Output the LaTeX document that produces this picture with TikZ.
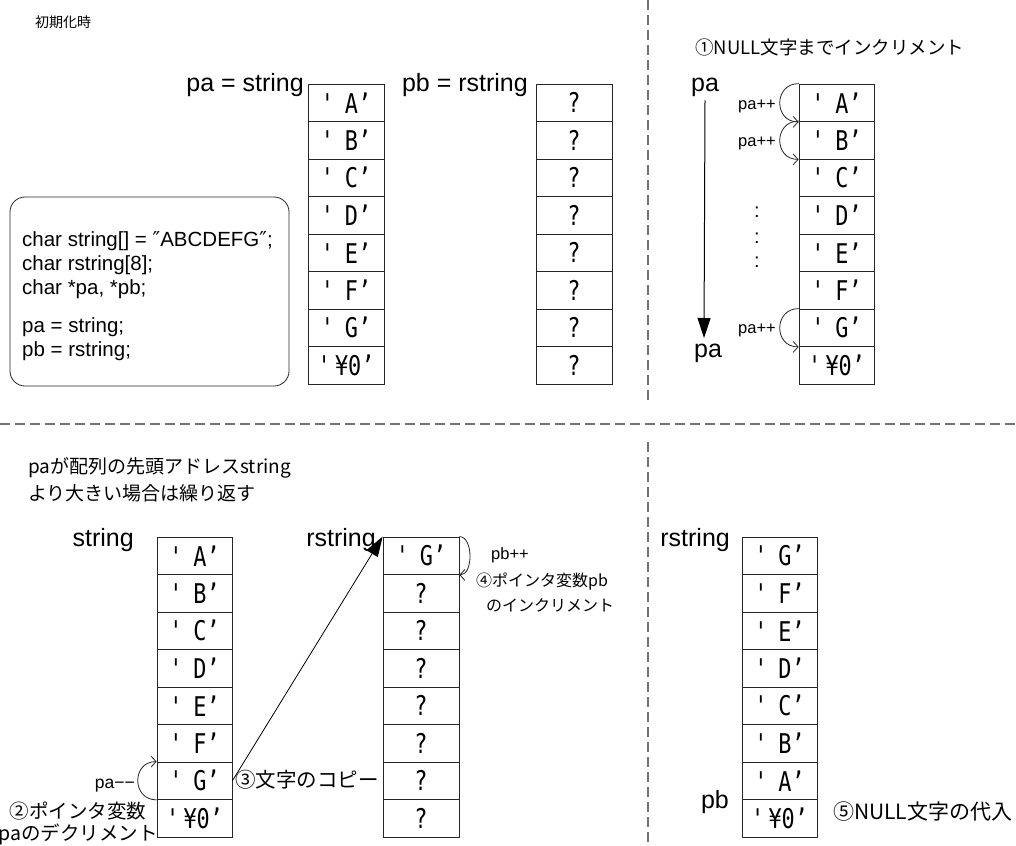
\documentclass[tikz,border=0pt]{standalone}
\usepackage{fontspec}
\usepackage{graphicx}
\setmainfont{Liberation Sans}
\newfontfamily\cjk{Noto Sans CJK JP}
\newfontfamily\dv{DejaVu Sans}
\newfontfamily\dvm{DejaVu Sans Mono}
\usetikzlibrary{arrows.meta}
\newcommand\fsz[1]{\fontsize{#1}{#1}\selectfont}
\newcommand\cq[1]{\scalebox{0.95}[1.18]{'\hspace{0.5em}#1’}}
\newcommand\cz{\scalebox{0.95}[1.18]{'\hspace{0.2em}¥0’}}
\newcommand\qm{\scalebox{0.95}[1.18]{?}}
\tikzset{
  cell/.style={draw=black!85, line width=0.8pt, minimum width=76pt, minimum height=37.5pt, inner sep=0pt, font=\dvm\fsz{23}},
  lbl/.style={font=\fsz{25}, inner sep=2pt},
  small/.style={font=\fsz{16.5}, inner sep=1pt},
  jp/.style={font=\cjk\fsz{19}, inner sep=0pt},
  code/.style={font=\fsz{20.5}, inner sep=0pt, anchor=west},
  loop/.style={draw=black!85, line width=0.8pt, -{Straight Barb[length=5pt,width=11pt]}},
  bigarrow/.style={draw=black, line width=1pt, -{Triangle[length=20pt,width=13pt]}},
  sepline/.style={draw=black!55, line width=1.5pt, dash pattern=on 10pt off 5pt},
}
\begin{document}
\begin{tikzpicture}[x=1pt,y=-1pt]
\fill[white] (0,0) rectangle (1016,845);
\useasboundingbox (0,0) rectangle (1016,845);

% separators
\draw[sepline] (0,424) -- (1016,424);
\draw[sepline] (648,0) -- (648,402);
\draw[sepline] (648,442) -- (648,845);

% ---------- top left ----------
\node[jp, font=\cjk\fsz{14}, anchor=west] (t1) at (35,22) {初期化時};
\node[lbl, anchor=base east] (paS) at (306,92) {pa = string};
\node[lbl, anchor=base east] (pbR) at (530,92) {pb = rstring};
\foreach \t [count=\i] in {A,B,C,D,E,F,G}
  \node[cell] (s\i) at (346,65.25+37.5*\i) {\cq{\t}};
\node[cell] (s8) at (346,365.25) {\cz};
\foreach \i in {1,...,8}
  \node[cell] (r\i) at (574,65.25+37.5*\i) {\qm};

\draw[draw=black!85, line width=0.8pt, rounded corners=15pt] (10,197) rectangle (289,386);
\node[code] (c1) at (22,241) {char string[] = {\dv″}ABCDEFG{\dv″};};
\node[code] (c2) at (22,265) {char rstring[8];};
\node[code] (c3) at (22,289) {char *pa, *pb;};
\node[code] (c4) at (22,327) {pa = string;};
\node[code] (c5) at (22,351) {pb = rstring;};

% ---------- top right ----------
\node[jp, font=\cjk\fsz{18.5}, anchor=west] (t2) at (695,47) {①NULL文字までインクリメント};
\foreach \t [count=\i] in {A,B,C,D,E,F,G}
  \node[cell, minimum width=75pt] (u\i) at (836.5,65.25+37.5*\i) {\cq{\t}};
\node[cell, minimum width=75pt] (u8) at (836.5,365.25) {\cz};
\node[lbl, anchor=base, inner sep=3pt] (paT) at (705,92) {pa};
\node[lbl, anchor=base] (paB) at (708,357) {pa};
\coordinate (arrEnd) at (704,338);
\draw[bigarrow] (paT.south) -- (arrEnd);
\draw[loop] (u1.north west) .. controls +(-25,0) and +(-25,0) .. (u1.south west);
\draw[loop] (u2.north west) .. controls +(-25,0) and +(-25,0) .. (u2.south west);
\draw[loop] (u7.north west) .. controls +(-25,0) and +(-25,0) .. (u7.south west);
\node[small, anchor=base east] (pp1) at (777,110) {pa++};
\node[small, anchor=base east] (pp2) at (777,147) {pa++};
\node[small, anchor=base east] (pp3) at (777,333) {pa++};
\node[small, font=\fsz{20}] (d1) at (757,212) {:};
\node[small, font=\fsz{20}] (d2) at (757,238) {:};
\node[small, font=\fsz{20}] (d3) at (757,262) {:};

% ---------- bottom left ----------
\node[jp, anchor=west] (t3) at (28,468) {paが配列の先頭アドレスstring};
\node[jp, anchor=west] (t4) at (28,493) {より大きい場合は繰り返す};
\node[lbl, anchor=base east] (sL) at (136,546) {string};
\foreach \t [count=\i] in {A,B,C,D,E,F,G}
  \node[cell, minimum width=75pt] (v\i) at (194.5,518.25+37.5*\i) {\cq{\t}};
\node[cell, minimum width=75pt] (v8) at (194.5,818.25) {\cz};
\node[lbl, anchor=base east] (rL) at (378,546) {rstring};
\node[cell] (q1) at (421,555.75) {\cq{G}};
\foreach \i in {2,...,8}
  \node[cell] (q\i) at (421,518.25+37.5*\i) {\qm};
\draw[loop] (v7.south west) .. controls +(-25,0) and +(-25,0) .. (v7.north west);
\node[small, font=\fsz{17.5}, anchor=base east] (pm) at (136,788) {pa−−};
\node[jp, font=\cjk\fsz{19.5}] (n2a) at (78,811) {②ポインタ変数};
\node[jp, font=\cjk\fsz{19.5}] (n2b) at (78,834) {paのデクリメント};
\draw[bigarrow, line width=0.8pt] (v7.east) -- (q1.north west);
\node[jp, font=\cjk\fsz{20.5}, anchor=west] (n3) at (235,780) {③文字のコピー};
\draw[loop] (q1.north east) .. controls +(14,0) and +(14,0) .. (q1.south east);
\node[small, anchor=west] (pbpp) at (490,555) {pb++};
\node[jp, font=\cjk\fsz{16}, anchor=west] (n4a) at (476,582) {④ポインタ変数pb};
\node[jp, font=\cjk\fsz{16}, anchor=west] (n4b) at (486,605) {のインクリメント};

% ---------- bottom right ----------
\node[lbl, anchor=base east] (rR) at (732,546) {rstring};
\foreach \t [count=\i] in {G,F,E,D,C,B,A}
  \node[cell, minimum width=75pt] (w\i) at (779.5,518.25+37.5*\i) {\cq{\t}};
\node[cell, minimum width=75pt] (w8) at (779.5,818.25) {\cz};
\node[lbl, anchor=base east] (pbB) at (731,808) {pb};
\node[jp, font=\cjk\fsz{21}, anchor=west] (n5) at (833,812) {⑤NULL文字の代入};
\end{tikzpicture}
\end{document}
